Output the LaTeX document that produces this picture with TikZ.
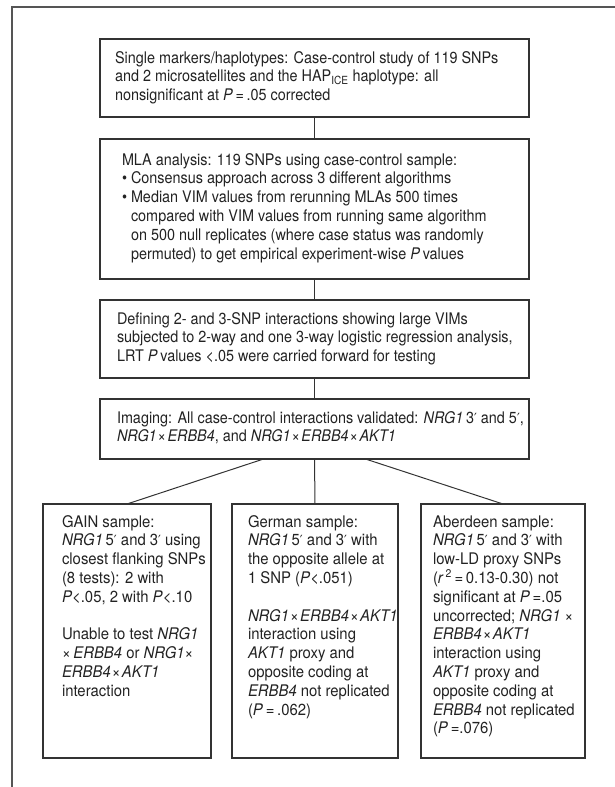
\documentclass[tikz,border=0pt]{standalone}
\usepackage{fontspec}
\setmainfont{TeX Gyre Heros}[FakeStretch=0.9]
\newfontfamily\widefont{TeX Gyre Heros}[FakeStretch=0.93]
\newfontfamily\primefont{DejaVu Sans}[FakeStretch=0.9]
\definecolor{ink}{HTML}{222222}
\definecolor{frame}{HTML}{555555}
\definecolor{edge}{HTML}{333333}
\tikzset{
  boxnode/.style={draw=edge, line width=1.1pt, minimum width=#1, anchor=north west, inner sep=0pt, outer sep=0pt},
  txt/.style={anchor=base west, inner sep=0pt, outer sep=0pt, text=ink, font=\fontsize{16}{18.8}\selectfont},
  smalltxt/.style={txt, font=\widefont\fontsize{16}{18.8}\selectfont},
  link/.style={draw=edge, line width=1pt},
}
\newcommand{\bul}{\makebox[9pt][l]{\textbullet}}
\newcommand{\ita}[1]{\textit{#1}}
\newcommand{\pr}{{\primefont\fontsize{14}{18.8}\selectfont ′}}
\newcommand{\tm}{\kern1pt×\kern1.5pt}
\newcommand{\lines}[1]{\parbox[t]{420pt}{\raggedright #1}}
\begin{document}
\begin{tikzpicture}[x=1pt,y=-1pt]
\useasboundingbox (0,0) rectangle (615,787);
% outer frame
\coordinate (fa) at (615,7);
\coordinate (fb) at (12,7);
\coordinate (fc) at (12,787);
\draw[frame, line width=1.8pt] (fa) -- (fb) -- (fc);

% boxes
\node[boxnode=429pt, minimum height=78pt] (top) at (100,39) {};
\node[boxnode=429pt, minimum height=140pt] (mla) at (100,139) {};
\node[boxnode=429pt, minimum height=78pt] (def) at (100,300) {};
\node[boxnode=429pt, minimum height=60pt] (img) at (100,399) {};
\node[boxnode=168pt, minimum height=254pt] (gain) at (43,504) {};
\node[boxnode=166pt, minimum height=254pt] (ger) at (232,504) {};
\node[boxnode=164pt, minimum height=254pt] (abe) at (421,504) {};

% connectors
\draw[link] (top.south) -- (mla.north);
\draw[link] (mla.south) -- (def.north);
\draw[link] (def.south) -- (img.north);
\draw[link] ([xshift=-51pt]img.south) -- (gain.north);
\draw[link] (img.south) -- (ger.north);
\draw[link] ([xshift=51pt]img.south) -- (abe.north);

% texts
\node[txt] (ttop) at (115,63) {\lines{Single markers/haplotypes: Case-control study of 119 SNPs\\
and 2 microsatellites and the HAP\textsubscript{ICE} haplotype: all\\
nonsignificant at \ita{P}\,=\,.05 corrected}};

\node[txt] (tmla) at (122,165) {\lines{MLA analysis: 119 SNPs using case-control sample:\\
\bul Consensus approach across 3 different algorithms\\
\bul Median VIM values from rerunning MLAs 500 times\\
\hspace*{9pt}compared with VIM values from running same algorithm\\
\hspace*{9pt}on 500 null replicates (where case status was randomly\\
\hspace*{9pt}permuted) to get empirical experiment-wise \ita{P}\,values}};

\node[txt] (tdef) at (117,324) {\lines{Defining 2- and 3-SNP interactions showing large VIMs\\
subjected to 2-way and one 3-way logistic regression analysis,\\
LRT \ita{P}\,values <.05 were carried forward for testing}};

\node[txt] (timg) at (117,423) {\lines{Imaging: All case-control interactions validated: \ita{NRG1}\,3\pr\ and 5\pr,\\
\ita{NRG1}\tm\ita{ERBB4}, and \ita{NRG1}\tm\ita{ERBB4}\tm\ita{AKT1}}};

\node[smalltxt] (tgain) at (62,527) {\lines{GAIN sample:\\
\ita{NRG1}\,5\pr\ and 3\pr\ using\\
closest flanking SNPs\\
(8 tests): 2 with\\
\ita{P}<.05, 2 with \ita{P}<.10\\[18.8pt]
Unable to test \ita{NRG1}\\
×\,\ita{ERBB4} or \ita{NRG1}×\\
\ita{ERBB4}\tm\ita{AKT1}\\
interaction}};

\node[smalltxt] (tger) at (248,527) {\lines{German sample:\\
\ita{NRG1}\,5\pr\ and 3\pr\ with\\
the opposite allele at\\
1 SNP (\ita{P}<.051)\\[18.8pt]
\ita{NRG1}\tm\ita{ERBB4}\tm\ita{AKT1}\\
interaction using\\
\ita{AKT1} proxy and\\
opposite coding at\\
\ita{ERBB4} not replicated\\
(\ita{P}\,=\,.062)}};

\node[smalltxt] (tabe) at (433,527) {\lines{Aberdeen sample:\\
\ita{NRG1}\,5\pr\ and 3\pr\ with\\
low-LD proxy SNPs\\
(\ita{r}\textsuperscript{\,2}\,=\,0.13-0.30) not\\
significant at \ita{P}\,=.05\\
uncorrected; \ita{NRG1} ×\\
\ita{ERBB4}\tm\ita{AKT1}\\
interaction using\\
\ita{AKT1} proxy and\\
opposite coding at\\
\ita{ERBB4} not replicated\\
(\ita{P}\,=.076)}};
\end{tikzpicture}
\end{document}
